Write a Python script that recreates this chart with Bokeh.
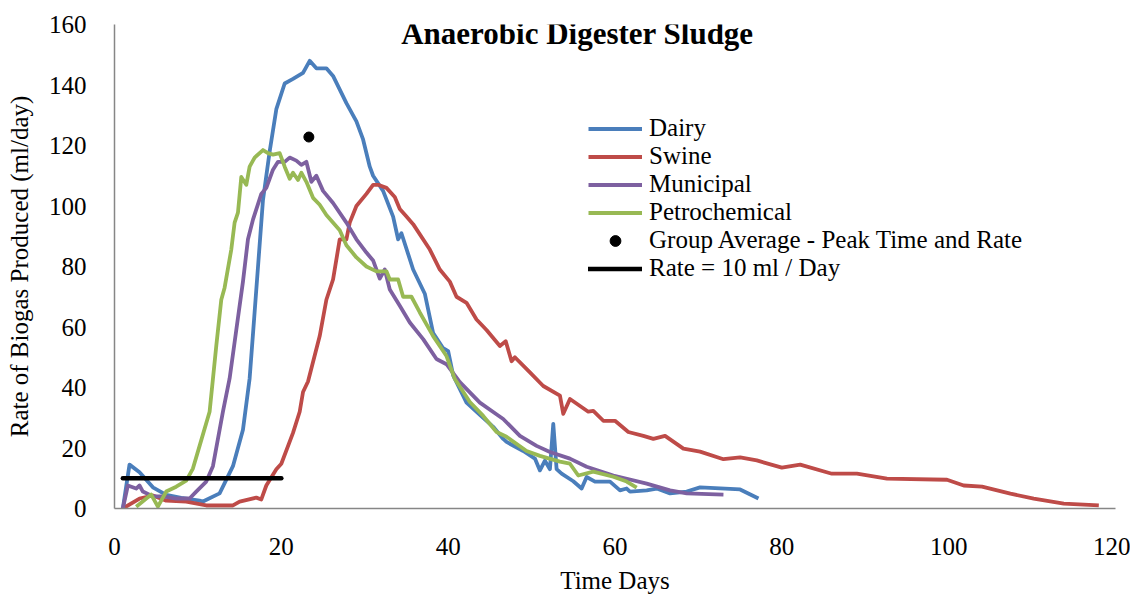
from bokeh.plotting import figure
from bokeh.models import Range1d, FixedTicker, Legend, LegendItem, Label
from bokeh.embed import file_html
from bokeh.resources import INLINE

# ---- data ----
x_ticks = [0, 20, 40, 60, 80, 100, 120]
y_ticks = [0, 20, 40, 60, 80, 100, 120, 140, 160]

dairy_x = [1, 1.8, 3, 4.6, 6.2, 8, 10.2, 10.6, 12.6, 14.2, 15.4, 16.2, 16.8, 17.8, 18.6,
           19.4, 20.4, 21.4, 22.6, 23.4, 24.2, 25.4, 26.2, 27.8, 29, 29.8, 30.6, 31, 32.2, 33.4,
           34, 34.4, 35.8, 37.2, 38.2, 39.4, 40, 40.6, 42.2, 43.8, 45.4, 46.6, 47, 49, 50.4,
           51, 51.6, 52.2, 52.6, 53, 53.6, 55, 56, 56.6, 57.6, 59.4, 60.6, 61.4, 61.8, 63.8,
           65, 66.6, 68.6, 70.2, 75, 77.2]
dairy_y = [0, 14.5, 12, 7, 4.5, 3.5, 2.6, 2.3, 5, 14, 26, 43, 65, 102, 118,
           132, 140.5, 142, 144, 148, 145.5, 145.5, 143, 134, 128, 122, 113, 110, 105, 96.5,
           89, 91, 79, 71, 58, 53, 52, 44, 35, 31, 27, 23, 22, 19, 16.5,
           12.6, 15.8, 13, 28, 13, 11.5, 9, 6.6, 10.4, 8.9, 8.9, 6, 6.6, 5.6, 6,
           6.6, 5, 5.6, 7, 6.3, 3.3]

swine_x = [1, 3, 4.6, 6.2, 8.6, 11, 14.2, 15, 17, 17.6, 18.2, 19.4, 20, 21.4, 22.2,
           22.6, 23.2, 24.6, 25.4, 26.2, 27, 27.8, 28.2, 29, 30.2, 31, 31.6, 32.6, 33.6, 34.2,
           35, 35.8, 37.8, 39, 40.2, 41, 42.2, 43.4, 44.6, 46.2, 46.9, 47.6, 48, 49.8, 51.4,
           53.4, 53.8, 54.6, 56.8, 57.4, 58.6, 60, 61.6, 63.4, 64.6, 66, 68.2, 70.2, 73, 75,
           77, 80, 82.2, 86, 89, 92.6, 99.8, 101.8, 104, 107.4, 110.2, 113.8, 118]
swine_y = [0, 3.3, 4.3, 2.6, 2.3, 1, 1, 2.3, 3.6, 3, 7.6, 13, 14.8, 25, 32,
           38.5, 42, 57, 69, 75.7, 89, 89, 94.5, 100, 104, 107, 107, 106, 103, 99,
           96.5, 94, 85.6, 79, 75, 70, 68, 62.5, 59, 53.7, 55.3, 48.7, 50, 45, 40.5,
           37.3, 31.3, 36.2, 32, 32.3, 29, 29, 25.3, 24, 23, 24, 19.8, 18.8, 16.3, 16.9,
           15.9, 13.5, 14.5, 11.5, 11.5, 9.9, 9.5, 7.6, 7.2, 4.9, 3.3, 1.6, 1]

municipal_x = [1, 1.6, 2.6, 3, 3.4, 4.6, 5.8, 7.4, 9, 9.8, 11, 11.8, 13, 13.8, 14.6,
               15.4, 16, 16.6, 17.6, 18.2, 19, 19.6, 20.4, 21, 21.8, 22.4, 23, 23.6, 24.2, 25,
               26.2, 27.8, 29, 30.2, 31, 31.8, 32.4, 33, 34.2, 35.4, 37, 38.6, 39.8, 41.4, 43.8,
               45.4, 46.6, 48.6, 50.6, 52.2, 54.6, 56.6, 59.8, 63.8, 66.6, 68.6, 73]
municipal_y = [0, 7.6, 6.6, 7.6, 5.6, 4, 4, 3.3, 3.3, 5.6, 8.9, 14, 32, 43, 59,
               75, 89, 95.5, 104, 106, 112, 114.6, 114.6, 116, 115, 113.6, 114.6, 108, 110, 105,
               101, 94.5, 89, 84.6, 82, 76, 79, 72.4, 67, 61.5, 56, 49.4, 47.7, 41.8, 35,
               31.9, 29.6, 24, 20.7, 18.7, 16.5, 13.8, 10.9, 8.2, 6, 5, 4.6]

petro_x = [2.6, 4.4, 5.2, 6.2, 7.4, 8.6, 9.4, 10.2, 11.4, 12.2, 12.8, 13.2, 14, 14.4, 14.8,
           15.2, 15.8, 16.2, 16.8, 17.8, 18.4, 19, 19.8, 20.4, 21, 21.4, 22, 22.4, 23, 23.8,
           24.6, 25.4, 27, 27.8, 29, 30.2, 31.4, 32.6, 33, 34, 34.6, 35.6, 36.6, 38.2, 39.8,
           40.8, 42.6, 44.2, 45.8, 47, 49.4, 51, 53.4, 54.6, 55.6, 57.4, 59.8, 61.4, 62.6]
petro_y = [0.6, 4.6, 0.6, 5.6, 7.2, 9.2, 13.2, 20.7, 32, 53.7, 69, 73, 85.6, 94.5, 97.8,
           109.6, 107, 113, 116, 118.5, 117.5, 117, 117.5, 113, 109, 111, 108.6, 111, 108, 102.7,
           100.4, 97, 92, 87, 83, 80, 78.4, 78.4, 75.7, 75.7, 70, 70, 64.8, 57, 50.4,
           42.8, 35.2, 30.6, 25.3, 23.7, 19, 17.4, 15.5, 14.8, 10.9, 12.2, 10.5, 8.9, 6.9]

avg_x = [23.3]
avg_y = [122.8]

rate_x = [1, 20]
rate_y = [10, 10]

series_names = ["Dairy", "Swine", "Municipal", "Petrochemical"]
series_colors = ["#4A7EBB", "#BE4B48", "#7D60A0", "#98B954"]

FONT = "Liberation Serif"

p = figure(width=1130, height=596, output_backend="svg", toolbar_location=None,
           x_range=Range1d(0, 120), y_range=Range1d(0, 160),
           min_border_left=114, min_border_right=15, min_border_top=24, min_border_bottom=88)
p.background_fill_color = "white"
p.border_fill_color = "white"
p.outline_line_color = None
p.xgrid.visible = False
p.ygrid.visible = False

data = [(dairy_x, dairy_y), (swine_x, swine_y), (municipal_x, municipal_y), (petro_x, petro_y)]
renderers = []
for (xs, ys), name, col in zip(data, series_names, series_colors):
    r = p.line(xs, ys, line_color=col, line_width=3.8, line_join="round")
    renderers.append(r)

r_avg = p.scatter(avg_x, avg_y, size=10, marker="circle", fill_color="black", line_color="black")
r_rate = p.line(rate_x, rate_y, line_color="black", line_width=4.5, line_cap="round")

for ax in (p.xaxis[0], p.yaxis[0]):
    ax.axis_line_color = "#868686"
    ax.axis_line_width = 1.5
    ax.major_tick_line_color = None
    ax.minor_tick_line_color = None
    ax.major_label_text_font = FONT
    ax.major_label_text_font_size = "25px"
    ax.major_label_text_color = "black"
    ax.axis_label_text_font = FONT
    ax.axis_label_text_font_size = "25px"
    ax.axis_label_text_font_style = "normal"
    ax.axis_label_text_color = "black"

p.xaxis.ticker = FixedTicker(ticks=x_ticks)
p.yaxis.ticker = FixedTicker(ticks=y_ticks)
p.xaxis.axis_label = "Time Days"
p.yaxis.axis_label = "Rate of Biogas Produced (ml/day)"
p.xaxis.major_label_standoff = 23
p.yaxis.major_label_standoff = 22
p.xaxis.axis_label_standoff = 9
p.yaxis.axis_label_standoff = 13

title = Label(x=55.5, y=157, text="Anaerobic Digester Sludge", text_font=FONT,
              text_font_size="31px", text_font_style="bold", text_align="center",
              text_baseline="middle", text_color="black")
p.add_layout(title)

items = [LegendItem(label=n, renderers=[r]) for n, r in zip(series_names, renderers)]
items.append(LegendItem(label="Group Average - Peak Time and Rate", renderers=[r_avg]))
items.append(LegendItem(label="Rate = 10 ml / Day", renderers=[r_rate]))
legend = Legend(items=items, location=(474, 226), glyph_width=54, glyph_height=27,
                label_height=27, spacing=0, padding=0, margin=0, label_standoff=7,
                border_line_color=None, background_fill_alpha=0)
legend.label_text_font = FONT
legend.label_text_font_size = "25px"
legend.label_text_color = "black"
p.add_layout(legend)

open("out.html", "w").write(file_html(p, INLINE))
